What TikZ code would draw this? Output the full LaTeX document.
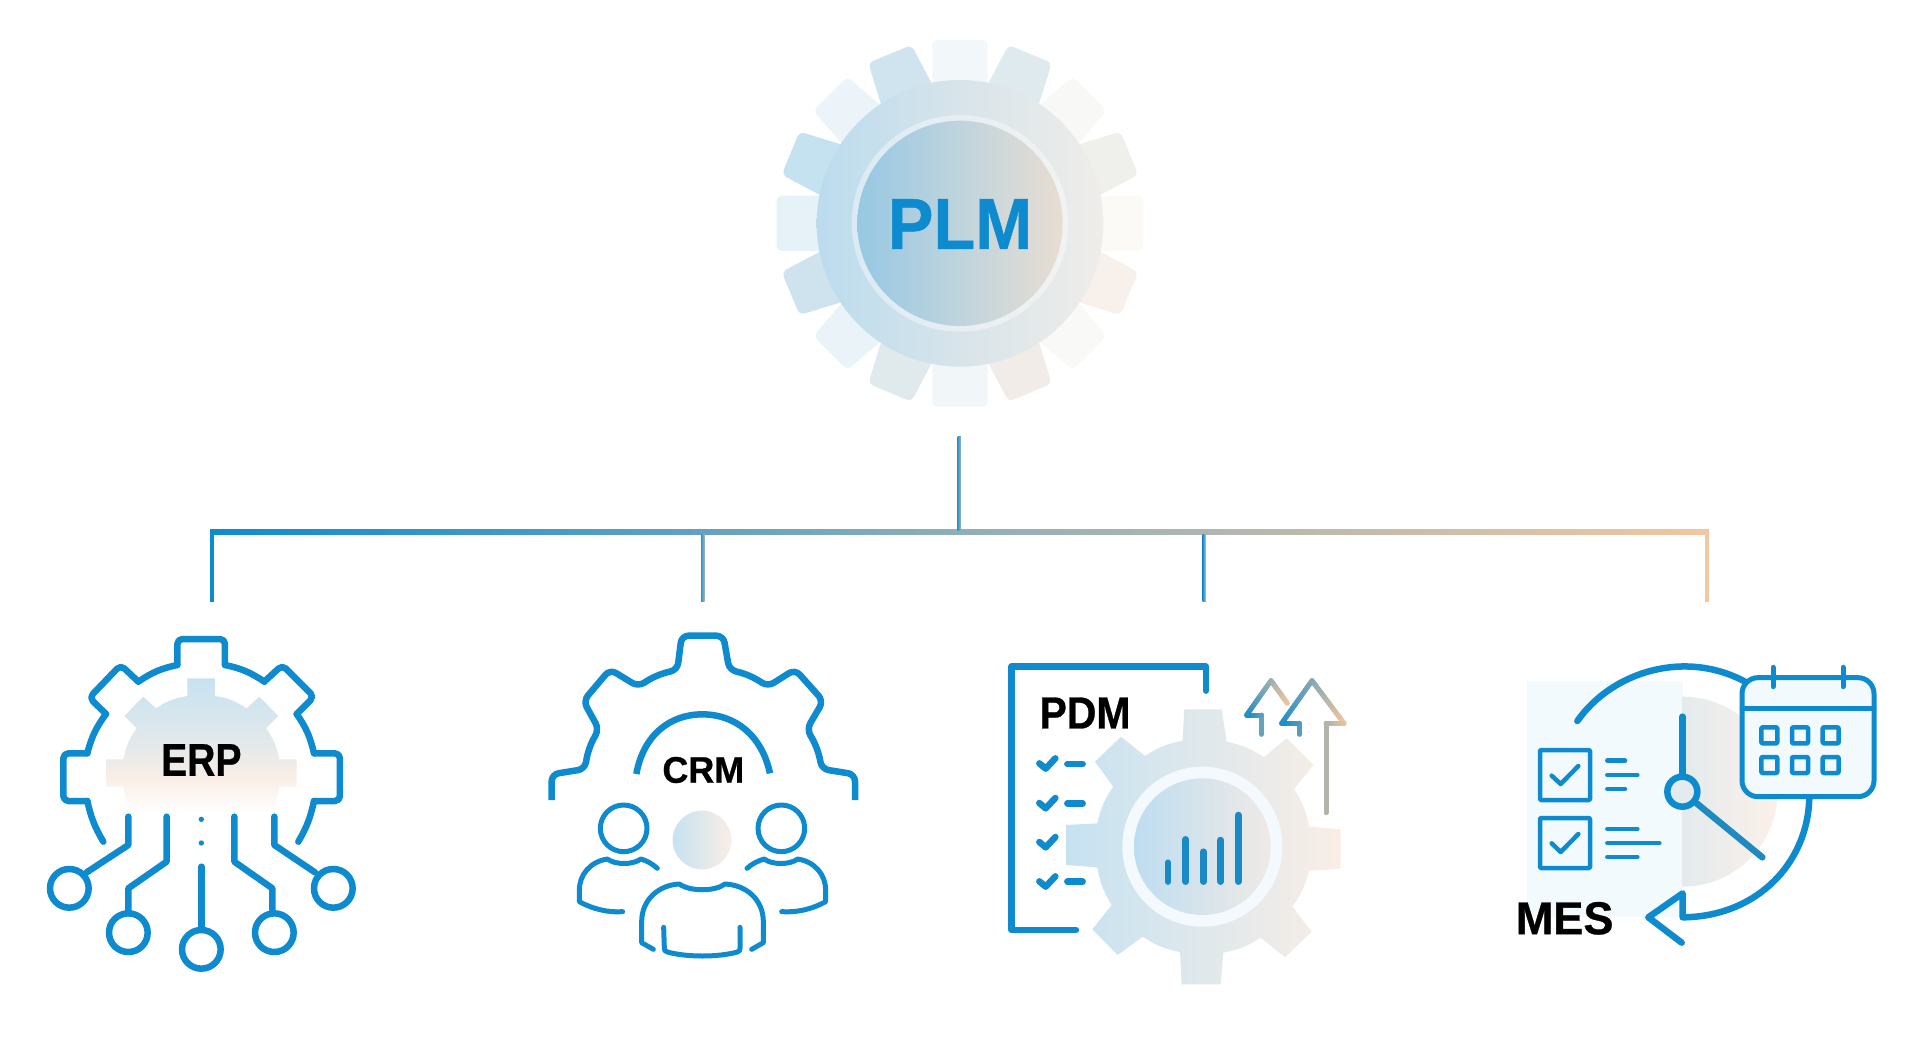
\documentclass[tikz,border=0pt]{standalone}
\usepackage{fontspec}
\usepackage{graphicx}
\setmainfont{Liberation Sans}[BoldFeatures={FakeBold=0.7}]
\definecolor{mainblue}{HTML}{0E8BCE}
\definecolor{softblue}{HTML}{C6E2F1}
\definecolor{softpeach}{HTML}{F9EEE6}
\definecolor{arrowblue}{HTML}{1A8CCB}
\definecolor{arrowpeach}{HTML}{EFC49E}
\definecolor{tooth0}{HTML}{F2F7F9}
\definecolor{tooth1}{HTML}{DFEAEF}
\definecolor{tooth2}{HTML}{F8F8F6}
\definecolor{tooth3}{HTML}{EFEFEC}
\definecolor{tooth4}{HTML}{FCFAF7}
\definecolor{tooth5}{HTML}{F8F0EA}
\definecolor{tooth6}{HTML}{F9F9F7}
\definecolor{tooth7}{HTML}{F1ECE7}
\definecolor{tooth8}{HTML}{F1F6F8}
\definecolor{tooth9}{HTML}{E0E9EC}
\definecolor{tooth10}{HTML}{EAF3F8}
\definecolor{tooth11}{HTML}{CFE3EE}
\definecolor{tooth12}{HTML}{E6F2F8}
\definecolor{tooth13}{HTML}{C5E2F1}
\definecolor{tooth14}{HTML}{ECF4F9}
\definecolor{tooth15}{HTML}{D0E4EF}
\definecolor{ringL}{HTML}{BBDCEE}
\definecolor{ringM}{HTML}{D8E4EA}
\definecolor{ringR}{HTML}{EFEDEA}
\definecolor{coreL}{HTML}{97C8E3}
\definecolor{coreM}{HTML}{BFD4DD}
\definecolor{coreR}{HTML}{E8DDD2}
\definecolor{busM}{HTML}{8FAEB8}
\definecolor{busR}{HTML}{F1C7A0}
\definecolor{dropgray}{HTML}{A8B5B5}
\definecolor{droppeach}{HTML}{DDC0A0}
\definecolor{dropend}{HTML}{F0C8A2}
\definecolor{pdmhalo}{HTML}{F3F9FD}
\definecolor{pdmL}{HTML}{BEDDF0}
\definecolor{pdmR}{HTML}{EFEAE6}
\definecolor{mesbg}{HTML}{F3FAFE}
\definecolor{mesL}{HTML}{E4EBED}
\definecolor{mesR}{HTML}{FBF0E9}
\definecolor{erpmid}{HTML}{E4E9EB}
\pgfdeclareverticalshading{erpsh}{100bp}{color(0bp)=(white); color(25bp)=(white); color(38bp)=(softpeach); color(50bp)=(erpmid); color(75bp)=(softblue); color(100bp)=(softblue)}
\newcommand{\gradline}[6]{%
  \foreach \k in {1,...,14}{%
    \pgfmathsetmacro{\xa}{#1+(#3-#1)*(\k-1)/14}%
    \pgfmathsetmacro{\ya}{#2+(#4-#2)*(\k-1)/14}%
    \pgfmathsetmacro{\xb}{#1+(#3-#1)*\k/14}%
    \pgfmathsetmacro{\yb}{#2+(#4-#2)*\k/14}%
    \pgfmathsetmacro{\tv}{max(0,min(100,(((\xa+\xb)/2-#5)/(#6-#5))*100))}%
    \draw[line width=5pt,line cap=round,draw=arrowpeach!\tv!arrowblue] (\xa,\ya) -- (\xb,\yb);%
  }%
}
\tikzset{
  ln/.style={draw=mainblue,line cap=round,line join=round,line width=#1},
  ln/.default=6.5pt,
  zoomed/.style n args={2}{x=0.33333pt,y=-0.33333pt,xshift=#1pt,yshift=-#2pt},
  lab/.style={text=black,font=\bfseries,inner sep=0pt,anchor=center},
}
\begin{document}
\begin{tikzpicture}[x=1pt,y=-1pt]
\useasboundingbox (0,0) rectangle (1920,1039);
\fill[white] (0,0) rectangle (1920,1039);

% ---------- PLM gear
\begin{scope}[zoomed={740}{20}]
\foreach \a/\w/\b [count=\i from 0] in {0/83/83,22.5/70/86,45/72/85,67.5/70/86,90/83/83,112.5/70/86,135/72/85,157.5/70/86,180/83/83,202.5/70/86,225/72/85,247.5/70/86,270/83/83,292.5/70/86,315/72/85,337.5/70/86}{
  \fill[fill=tooth\i,rounded corners=5pt,shift={(660,610)},rotate=-\a] (-\w,-550) -- (\w,-550) -- (\b,-380) -- (-\b,-380) -- cycle;
}
\shade[left color=ringL,right color=ringR,middle color=ringM] (660,610) circle[radius=430];
\fill[fill=white,opacity=.4] (660,610) circle[radius=325];
\shade[left color=coreL,right color=coreR,middle color=coreM] (660,610) circle[radius=308];
\node[lab,text=mainblue] (plm) at (660,612) {\fontsize{72}{72}\selectfont\scalebox{.95}[1]{PLM}};
\end{scope}

% ---------- connector tree
\coordinate (hubTop) at (957.5,436);
\coordinate (hubBus) at (961,530);
\coordinate (busL) at (210,529.5);
\coordinate (busR) at (1709,534.5);
\coordinate (erpTop) at (214,602);
\coordinate (crmA) at (701,534);
\coordinate (crmB) at (704.5,601);
\coordinate (pdmA) at (1202.5,534);
\coordinate (pdmB) at (1206,601);
\coordinate (mesA) at (1705,534);
\coordinate (mesB) at (1709,602);
\shade[left color=mainblue,right color=busR,middle color=busM] (busL) rectangle (busR);
\fill[mainblue] (busL) rectangle (erpTop);
\shade[left color=mainblue!90!white,right color=dropgray] (crmA) rectangle (crmB);
\shade[left color=mainblue!90!white,right color=dropgray] (hubTop) rectangle (hubBus);
\shade[left color=mainblue,right color=droppeach] (pdmA) rectangle (pdmB);
\fill[dropend] (mesA) rectangle (mesB);

% ---------- ERP
\begin{scope}[zoomed={30}{620}]
\shade[shading=erpsh] (472,175) -- (555,175) -- (555,228) to[bend left=12] (650,265) -- (688,230) -- (745,288) -- (708,325) to[bend left=12] (748,418) -- (800,418) -- (800,500) -- (748,500) to[bend left=4] (728,578) -- (300,578) to[bend left=4] (280,500) -- (228,500) -- (228,418) -- (280,418) to[bend left=12] (320,325) -- (283,288) -- (340,230) -- (378,265) to[bend left=12] (472,228) -- cycle;
\draw[ln] (220,665) to[bend left=9] (172,543);
\draw[ln] (172,400) to[bend left=11] (228,282);
\draw[ln] (325,185) to[bend left=11] (442,135);
\draw[ln] (585,135) to[bend left=11] (703,185);
\draw[ln] (800,282) to[bend left=11] (852,400);
\draw[ln] (852,543) to[bend left=9] (805,665);
\draw[ln,rounded corners=5pt] (172,543) -- (100,543) -- (100,400) -- (172,400);
\draw[ln,rounded corners=5pt] (228,282) -- (178,233) -- (272,135) -- (325,185);
\draw[ln,rounded corners=5pt] (442,135) -- (442,57) -- (585,57) -- (585,135);
\draw[ln,rounded corners=5pt] (703,185) -- (757,135) -- (852,230) -- (800,282);
\draw[ln,rounded corners=5pt] (852,400) -- (930,400) -- (930,543) -- (852,543);
\foreach \cx/\cy in {118/805,295/938,514/988,733/938,910/805}
  \draw[ln] (\cx,\cy) circle[radius=58];
\draw[ln] (295,590) -- (295,675) -- (170,757);
\draw[ln] (410,590) -- (410,725) -- (295,805) -- (295,880);
\draw[ln] (514,740) -- (514,930);
\draw[ln] (613,590) -- (613,725) -- (727,805) -- (727,880);
\draw[ln] (733,590) -- (733,675) -- (855,757);
\fill[mainblue] (514,598) circle[radius=8] (514,669) circle[radius=8];
\node[lab] (erp) at (514,420) {\fontsize{46}{46}\selectfont\scalebox{.85}[1]{ERP}};
\end{scope}

% ---------- CRM
\begin{scope}[zoomed={530}{620}]
\draw[ln,line cap=butt,rounded corners=7pt] (65,540) -- (65,463) -- (165,447) to[bend left=11] (207,328) -- (160,243) -- (240,148) -- (325,200) to[bend left=11] (442,150) -- (455,47) -- (580,47) -- (598,150) to[bend left=11] (713,200) -- (795,148) -- (880,243) -- (830,328) to[bend left=11] (875,447) -- (975,463) -- (975,540);
\draw[ln,line cap=butt] (319,462) .. controls (340,345) and (420,283) .. (517,283) .. controls (615,283) and (695,345) .. (720,460);
\shade[left color=softblue,right color=softpeach] (516,660) circle[radius=88];
\draw[ln=5pt] (281,625) circle[radius=70] (754,625) circle[radius=70];
\draw[ln=5pt] (382,745) .. controls (365,730) and (350,722) .. (332,717) .. controls (310,735) and (255,735) .. (232,717) .. controls (180,725) and (148,765) .. (148,810) -- (148,845) .. controls (190,868) and (235,878) .. (278,875);
\draw[ln=5pt] (651,745) .. controls (668,730) and (685,722) .. (703,717) .. controls (725,735) and (780,735) .. (803,717) .. controls (855,725) and (887,765) .. (887,810) -- (887,845) .. controls (845,868) and (800,878) .. (755,875);
\draw[ln=5pt] (370,988) -- (335,968) -- (335,905) .. controls (335,840) and (385,795) .. (448,792) .. controls (480,815) and (555,815) .. (585,792) .. controls (650,795) and (700,840) .. (700,905) -- (700,968) -- (665,988);
\draw[ln=5pt] (401,922) -- (403,985) .. controls (403,990) and (405,995) .. (412,996) .. controls (470,1012) and (565,1012) .. (622,996) .. controls (628,995) and (630,990) .. (630,985) -- (630,922);
\node[lab] (crm) at (520,450) {\fontsize{37}{37}\selectfont\scalebox{.97}[1]{CRM}};
\end{scope}

% ---------- PDM
\begin{scope}[zoomed={990}{640}]
\draw[ln] (258,870) -- (65,870) -- (65,80) -- (648,80) -- (648,152);
\shade[left color=softblue,right color=softpeach] (583,208) -- (695,208) -- (710,305) to[bend left=11] (822,352) -- (890,295) -- (970,375) -- (912,447) to[bend left=11] (957,560) -- (1052,568) -- (1052,686) -- (957,692) to[bend left=11] (907,800) -- (965,875) -- (885,952) -- (812,893) to[bend left=11] (700,938) -- (692,1033) -- (575,1033) -- (570,936) to[bend left=11] (458,890) -- (383,945) -- (307,868) -- (365,795) to[bend left=11] (322,682) -- (228,675) -- (228,555) -- (322,550) to[bend left=11] (370,440) -- (315,365) -- (393,290) -- (465,348) to[bend left=11] (578,302) -- cycle;
\fill[pdmhalo] (637,620) circle[radius=240];
\shade[left color=pdmL,right color=pdmR] (637,620) circle[radius=205];
\foreach \by in {386,505,622,740}
  \draw[ln] (148,\by-16) -- (167,\by) -- (196,\by-31);
\foreach \dy in {372,490,725}
  \draw[ln] (232,\dy) -- (278,\dy);
\foreach \bx/\bt in {534/668,587/598,640/635,692/600,745/525}
  \draw[ln,draw=mainblue!90!gray] (\bx,725) -- (\bx,\bt);
\gradline{815}{283}{815}{225}{770}{892}
\gradline{815}{225}{770}{225}{770}{892}
\gradline{770}{225}{843}{122}{770}{892}
\gradline{843}{122}{892}{190}{770}{892}
\gradline{928}{283}{928}{250}{875}{1062}
\gradline{928}{250}{875}{250}{875}{1062}
\gradline{875}{250}{966}{122}{875}{1062}
\gradline{966}{122}{1062}{250}{875}{1062}
\gradline{1062}{250}{1008}{250}{875}{1062}
\gradline{1008}{250}{1008}{518}{875}{1062}
\node[lab] (pdm) at (285,219) {\fontsize{45}{45}\selectfont\scalebox{.91}[1]{PDM}};
\end{scope}

% ---------- MES
\begin{scope}[zoomed={1500}{640}]
\fill[mesbg] (82,123) rectangle (548,830);
\shade[left color=mesL,right color=mesR] (548,170) .. controls (705,170) and (833,298) .. (833,455) .. controls (833,612) and (705,740) .. (548,740) -- cycle;
\draw[ln] (232,243) .. controls (340,90) and (560,30) .. (735,125);
\draw[ln] (928,470) .. controls (925,670) and (770,830) .. (548,832) -- (548,760) -- (445,832) -- (545,908);
\draw[ln] (547,230) -- (547,405);
\draw[ln,draw=mainblue!85!gray] (590,490) -- (787,652);
\draw[ln,fill=mesL] (547,455) circle[radius=45];
\draw[ln=5pt,fill=mesbg,rounded corners=16pt] (726,113) rectangle (1122,470);
\draw[ln=5pt] (726,205) -- (1122,205);
\draw[ln=5pt] (819,82) -- (819,140) (1029,82) -- (1029,140);
\foreach \sx in {808,900,992}
  \foreach \sy in {286,375}
    \draw[ln=4.5pt,rounded corners=1pt] (\sx-24,\sy-24) rectangle (\sx+24,\sy+24);
\draw[ln=4.5pt,rounded corners=1pt] (120,330) rectangle (270,480) (120,534) rectangle (270,684);
\draw[ln=4.5pt] (155,407) -- (182,432) -- (235,378) (155,610) -- (182,636) -- (235,582);
\draw[ln=4.5pt] (322,362) -- (375,362) (322,405) -- (412,405) (322,447) -- (375,447);
\draw[ln=4.5pt] (322,567) -- (412,567) (322,609) -- (478,609) (322,651) -- (412,651);
\node[lab] (mes) at (194,835) {\fontsize{46}{46}\selectfont\scalebox{.98}[1]{MES}};
\end{scope}
\end{tikzpicture}
\end{document}
